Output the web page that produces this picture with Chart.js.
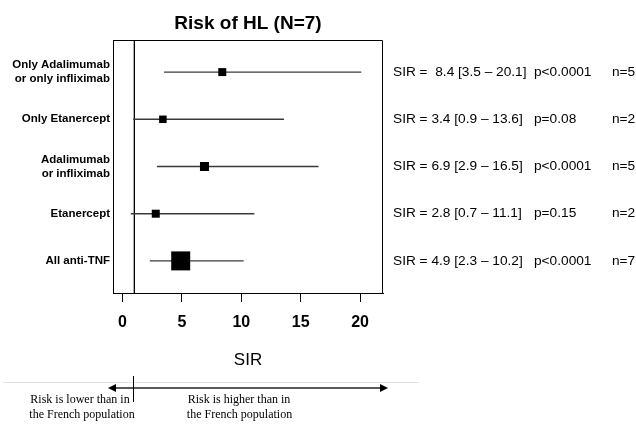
<!DOCTYPE html>
<html>
<head>
<meta charset="utf-8">
<script src="https://cdn.jsdelivr.net/npm/chart.js@4.4.1/dist/chart.umd.min.js"></script>
<style>
  html, body { margin: 0; padding: 0; background: #fff; }
  #wrap { width: 636px; height: 424px; }
</style>
</head>
<body>
<div id="wrap"><canvas id="forest" width="636" height="424"></canvas></div>
<script>
// Forest plot – risk of HL under anti-TNF (SIR with 95% CI)
const rowLabels = [
  ['Only Adalimumab', 'or only infliximab'],
  'Only Etanercept',
  ['Adalimumab', 'or infliximab'],
  'Etanercept',
  'All anti-TNF'
];
const sirValues = [8.4, 3.4, 6.9, 2.8, 4.9];
const ciLow     = [3.5, 0.9, 2.9, 0.7, 2.3];
const ciHigh    = [20.1, 13.6, 16.5, 11.1, 10.2];
const pValues   = ['p<0.0001', 'p=0.08', 'p<0.0001', 'p=0.15', 'p<0.0001'];
const nCases    = [5, 2, 5, 2, 7];
const xTicks    = [0, 5, 10, 15, 20];
const refSIR    = 1;

// marker side in px (style only)
const markerSide = [8, 7.5, 9, 8, 19];

const SANS  = "'Liberation Sans', Arial, sans-serif";
const SERIF = "'Liberation Serif', 'Times New Roman', serif";
const rows  = sirValues.map((_, i) => i + 1);
const Y_MIN = 0.32, Y_MAX = 5.68;

const ciDatasets = rows.map((r, i) => ({
  data: [{ x: ciLow[i], y: r }, { x: ciHigh[i], y: r }],
  showLine: true, borderColor: '#3a3a3a', borderWidth: 1.4, pointRadius: 0
}));

const boxPlugin = {
  id: 'boxAndNotes',
  afterDraw(chart) {
    const { ctx, chartArea: a, scales: { x, y } } = chart;
    ctx.save();
    // top + right frame
    ctx.strokeStyle = '#000';
    ctx.lineWidth = 1;
    ctx.beginPath();
    ctx.moveTo(a.left, a.top + 0.5);
    ctx.lineTo(a.right - 0.5, a.top + 0.5);
    ctx.lineTo(a.right - 0.5, a.bottom);
    ctx.stroke();

    // right-hand text columns
    ctx.fillStyle = '#000';
    ctx.font = `13.7px ${SANS}`;
    ctx.textBaseline = 'middle';
    ctx.textAlign = 'left';
    rows.forEach((r, i) => {
      const py = y.getPixelForValue(r);
      const sep = i === 0 ? '  ' : ' ';
      ctx.fillText(`SIR =${sep}${sirValues[i].toFixed(1)} [${ciLow[i].toFixed(1)} \u2013 ${ciHigh[i].toFixed(1)}]`, 393, py);
      ctx.fillText(pValues[i], 534, py);
      ctx.fillText(`n=${nCases[i]}`, 612, py);
    });

    // bottom separator and arrow
    ctx.strokeStyle = '#e2e2e2';
    ctx.beginPath();
    ctx.moveTo(3, 382.5);
    ctx.lineTo(419, 382.5);
    ctx.stroke();

    const ay = 388;
    ctx.strokeStyle = '#222';
    ctx.fillStyle = '#000';
    ctx.lineWidth = 1.5;
    ctx.beginPath();
    ctx.moveTo(112, ay);
    ctx.lineTo(382, ay);
    ctx.stroke();
    ctx.beginPath();
    ctx.moveTo(108, ay); ctx.lineTo(116, ay - 4); ctx.lineTo(116, ay + 4); ctx.closePath();
    ctx.moveTo(388, ay); ctx.lineTo(380, ay - 4); ctx.lineTo(380, ay + 4); ctx.closePath();
    ctx.fill();

    const rx = Math.round(x.getPixelForValue(refSIR)) - 0.5;
    ctx.lineWidth = 1;
    ctx.strokeStyle = '#000';
    ctx.beginPath();
    ctx.moveTo(rx, 376);
    ctx.lineTo(rx, 402);
    ctx.stroke();

    ctx.font = `12px ${SERIF}`;
    ctx.textAlign = 'center';
    ctx.fillText('Risk is lower than in', 80, 400);
    ctx.fillText('the French population', 82, 414.5);
    ctx.fillText('Risk is higher than in', 239, 400);
    ctx.fillText('the French population', 239.5, 414.5);
    ctx.restore();
  }
};

new Chart(document.getElementById('forest'), {
  type: 'scatter',
  data: {
    datasets: [
      {
        data: sirValues.map((v, i) => ({ x: v, y: rows[i] })),
        pointStyle: 'rect',
        pointRadius: markerSide.map(s => s / Math.SQRT2),
        backgroundColor: '#000', borderWidth: 0
      },
      ...ciDatasets,
      {
        data: [{ x: refSIR, y: Y_MIN }, { x: refSIR, y: Y_MAX }],
        showLine: true, borderColor: '#000', borderWidth: 1, pointRadius: 0
      }
    ]
  },
  options: {
    responsive: false, animation: false,
    layout: { padding: { left: 0, right: 253, top: 0, bottom: 0 } },
    plugins: {
      legend: { display: false },
      tooltip: { enabled: false },
      title: {
        display: true, fullSize: false,
        text: 'Risk of HL (N=7)', color: '#000',
        font: { family: SANS, size: 19, weight: 'bold' },
        padding: { top: 12.6, bottom: 4.6 }
      }
    },
    scales: {
      x: {
        type: 'linear', min: -0.8, max: 21.93,
        afterBuildTicks: s => { s.ticks = xTicks.map(v => ({ value: v })); },
        afterFit: s => { s.height = 131; },
        grid: { drawOnChartArea: false, drawTicks: true, tickLength: 9, color: '#000' },
        border: { display: true, color: '#000', width: 1 },
        ticks: {
          color: '#000', padding: 11, maxRotation: 0, autoSkip: false,
          font: { family: SANS, size: 16, weight: 'bold' }
        },
        title: {
          display: true, text: 'SIR', color: '#000',
          font: { family: SANS, size: 17 },
          padding: { top: 0, bottom: 53 }
        }
      },
      y: {
        type: 'linear', min: Y_MIN, max: Y_MAX, reverse: true,
        afterBuildTicks: s => { s.ticks = rows.map(v => ({ value: v })); },
        afterFit: s => { s.width = 113; },
        grid: { display: false, drawTicks: false },
        border: { display: true, color: '#000', width: 1 },
        ticks: {
          color: '#000', padding: 3,
          font: { family: SANS, size: 11.5, weight: 'bold', lineHeight: 1.2 },
          callback: v => rowLabels[v - 1]
        }
      }
    }
  },
  plugins: [boxPlugin]
});
</script>
</body>
</html>
